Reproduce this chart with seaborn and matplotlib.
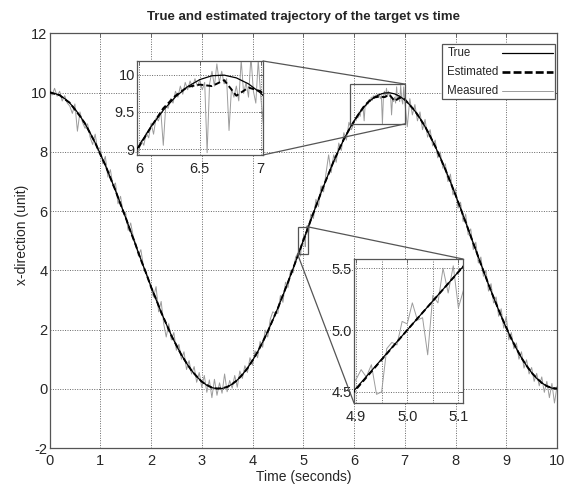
import numpy as np
import pandas as pd
import matplotlib
matplotlib.use("Agg")
import matplotlib.pyplot as plt
from matplotlib.lines import Line2D
from matplotlib.patches import Rectangle, ConnectionPatch
import seaborn as sns

# ---------------- data ----------------
# true trajectory, sampled every 0.1 s from 0 to 10 s
true_t = np.round(np.arange(0, 101) * 0.1, 2)
true_x = [10.000, 9.978, 9.911, 9.801, 9.649, 9.455, 9.222, 8.951, 8.645, 8.307,
          7.939, 7.545, 7.129, 6.694, 6.243, 5.782, 5.314, 4.843, 4.373, 3.909,
          3.455, 3.014, 2.591, 2.190, 1.813, 1.464, 1.147, 0.865, 0.618, 0.411,
          0.245, 0.120, 0.039, 0.002, 0.010, 0.062, 0.157, 0.296, 0.476, 0.696,
          0.955, 1.249, 1.577, 1.935, 2.321, 2.730, 3.159, 3.605, 4.063, 4.529,
          5.000, 5.471, 5.937, 6.395, 6.841, 7.270, 7.679, 8.065, 8.423, 8.751,
          9.045, 9.304, 9.524, 9.704, 9.843, 9.938, 9.990, 9.998, 9.961, 9.880,
          9.755, 9.589, 9.382, 9.135, 8.853, 8.536, 8.187, 7.810, 7.409, 6.986,
          6.545, 6.091, 5.627, 5.157, 4.686, 4.218, 3.757, 3.306, 2.871, 2.455,
          2.061, 1.693, 1.355, 1.049, 0.778, 0.545, 0.351, 0.199, 0.089, 0.022,
          0.000]

# estimated trajectory, same sampling
est_x = [10.02, 9.96, 9.92, 9.78, 9.66, 9.43, 9.21, 8.96, 8.63, 8.31,
         7.92, 7.56, 7.12, 6.70, 6.23, 5.79, 5.30, 4.85, 4.36, 3.92,
         3.44, 3.03, 2.58, 2.20, 1.80, 1.47, 1.14, 0.87, 0.61, 0.42,
         0.24, 0.13, 0.04, 0.01, 0.02, 0.06, 0.16, 0.29, 0.48, 0.69,
         0.96, 1.24, 1.58, 1.93, 2.33, 2.72, 3.17, 3.60, 4.07, 4.52,
         5.00, 5.47, 5.94, 6.39, 6.85, 7.26, 7.69, 8.06, 8.43, 8.74,
         9.03, 9.30, 9.55, 9.72, 9.84, 9.87, 9.85, 9.93, 9.72, 9.83,
         9.78, 9.58, 9.39, 9.13, 8.86, 8.53, 8.19, 7.80, 7.41, 6.98,
         6.55, 6.09, 5.63, 5.15, 4.69, 4.21, 3.76, 3.30, 2.88, 2.45,
         2.07, 1.69, 1.36, 1.04, 0.78, 0.54, 0.36, 0.20, 0.09, 0.03,
         0.01]

# measured (noisy) trajectory, in segments with their sampling
meas_a_t = np.round(np.arange(0, 98) * 0.05, 2)            # 0.00 .. 4.85
meas_a = [10.12, 9.92, 10.15, 9.88, 10.05, 9.72, 9.90, 9.65, 9.55, 9.30,
          9.62, 8.70, 9.35, 9.00, 8.80, 8.95, 8.50, 8.25, 8.60, 8.05,
          8.15, 7.60, 7.85, 7.15, 7.40, 6.85, 6.95, 6.25, 6.50, 5.95,
          5.95, 5.35, 5.60, 5.15, 4.90, 4.50, 4.70, 4.15, 3.95, 3.75,
          3.40, 3.10, 3.45, 2.60, 2.95, 2.20, 1.75, 2.20, 1.65, 1.90,
          1.30, 1.50, 1.00, 1.25, 0.65, 0.95, 0.50, 0.75, 0.22, 0.55,
          0.05, 0.45, -0.12, 0.30, -0.30, 0.32, -0.22, 0.20, -0.15, 0.50,
          -0.10, 0.28, 0.02, 0.45, 0.05, 0.60, 0.35, 0.78, 0.55, 1.05,
          0.80, 1.28, 1.05, 1.60, 1.40, 1.98, 1.75, 2.35, 2.60, 2.55,
          2.55, 3.15, 2.92, 3.60, 3.42, 4.00, 3.92, 4.45]
meas_f2_t = np.round(4.90 + np.arange(0, 21) * 0.01, 2)     # 4.90 .. 5.10
meas_f2 = [4.60, 4.68, 4.62, 4.72, 4.48, 4.50, 4.85, 4.90, 4.88, 5.07,
           5.05, 5.22, 5.08, 5.10, 4.80, 5.28, 5.22, 5.50, 5.30, 5.52,
           5.18]
meas_b_t = np.round(5.15 + np.arange(0, 17) * 0.05, 2)      # 5.15 .. 5.95
meas_b = [5.90, 5.75, 6.40, 6.15, 6.85, 6.65, 7.30, 7.90, 7.30, 7.90,
          7.65, 8.30, 8.05, 8.65, 8.40, 9.00, 8.75]
meas_f1_t = np.round(6.00 + np.arange(0, 51) * 0.02, 2)     # 6.00 .. 7.00
meas_f1 = [8.98, 9.12, 9.05, 9.22, 9.15, 9.35, 9.20, 9.42, 9.38, 9.50,
           9.05, 9.58, 9.55, 9.68, 9.62, 9.78, 9.70, 9.85, 9.74, 9.90,
           9.80, 9.92, 9.83, 9.95, 9.85, 9.93, 9.80, 9.90, 8.95, 9.88,
           10.05, 9.85, 10.15, 9.90, 10.05, 9.88, 9.95, 9.25, 9.82, 9.70,
           9.85, 9.65, 10.20, 9.75, 9.90, 9.70, 10.25, 9.78, 9.62, 10.20,
           9.72]
meas_c_t = np.round(7.05 + np.arange(0, 60) * 0.05, 2)      # 7.05 .. 10.00
meas_c = [8.85, 9.80, 9.25, 9.60, 9.05, 9.35, 8.75, 9.10, 8.50, 8.75,
          8.20, 8.40, 7.80, 8.00, 7.45, 7.60, 7.00, 7.25, 6.55, 6.75,
          6.10, 6.30, 5.65, 5.90, 5.20, 5.40, 4.70, 4.95, 4.25, 4.45,
          3.80, 4.00, 3.30, 3.55, 2.90, 3.10, 2.45, 2.70, 2.05, 2.45,
          1.65, 1.90, 1.35, 1.55, 1.00, 1.25, 0.70, 0.98, 0.50, 0.72,
          0.25, 0.52, 0.10, 0.40, -0.12, 0.25, -0.30, 0.18, -0.48, 0.08]

legend_labels = ["True", "Estimated", "Measured"]
title_text = "True and estimated trajectory of the target vs time"
xlabel_text = "Time (seconds)"
ylabel_text = "x-direction (unit)"
main_xticks = list(range(0, 11))
main_yticks = list(range(-2, 13, 2))

# ---------------- frames ----------------
df_true = pd.DataFrame({"t": true_t, "x": true_x})
df_est = pd.DataFrame({"t": true_t, "x": est_x})
df_meas = pd.DataFrame({
    "t": np.concatenate([meas_a_t, meas_f2_t, meas_b_t, meas_f1_t, meas_c_t]),
    "x": np.concatenate([meas_a, meas_f2, meas_b, meas_f1, meas_c]),
})

# ---------------- style ----------------
sns.set_style("white")
plt.rcParams["font.family"] = ["Liberation Sans", "DejaVu Sans"]
plt.rcParams["font.size"] = 10
plt.rcParams["axes.unicode_minus"] = False

FRAME = "#555555"
GRID = "#666666"
MEAS_C = "#9c9c9c"
EST_LS = (0, (3, 1.6))

fig = plt.figure(figsize=(5.69, 4.87), dpi=100)
fig.patch.set_facecolor("white")
W, H = 569.0, 487.0
AX_L, AX_T, AX_R, AX_B = 49.5, 33.5, 557.0, 448.0


def px_axes(l, t, r, b):
    return [l / W, (H - b) / H, (r - l) / W, (b - t) / H]


def ax_fx(px):
    return (px - AX_L) / (AX_R - AX_L)


def ax_fy(py):
    return (AX_B - py) / (AX_B - AX_T)


def draw_series(a):
    sns.lineplot(data=df_meas, x="t", y="x", ax=a, color=MEAS_C, linewidth=0.7,
                 estimator=None, sort=False, legend=False, zorder=2)
    sns.lineplot(data=df_true, x="t", y="x", ax=a, color="black", linewidth=0.9,
                 estimator=None, sort=False, legend=False, zorder=3)
    sns.lineplot(data=df_est, x="t", y="x", ax=a, color="black", linewidth=1.4,
                 linestyle=EST_LS, estimator=None, sort=False,
                 legend=False, zorder=4)


def style_axes(a, size=10.5):
    for s in a.spines.values():
        s.set_color(FRAME)
        s.set_linewidth(0.9)
    a.grid(True, color=GRID, linestyle=(0, (1, 1.5)), linewidth=0.7)
    a.set_axisbelow(True)
    a.tick_params(direction="in", length=3, width=0.6, color=FRAME,
                  labelsize=size, pad=2, top=True, right=True)
    a.set_xlabel("")
    a.set_ylabel("")


# main axes
ax = fig.add_axes(px_axes(AX_L, AX_T, AX_R, AX_B))
draw_series(ax)
style_axes(ax)
ax.set_xlim(0, 10)
ax.set_ylim(-2, 12)
ax.set_xticks(main_xticks)
ax.set_yticks(main_yticks)
ax.tick_params(axis="x", pad=4)
ax.tick_params(axis="y", pad=1.5)
ax.set_title(title_text, fontweight="bold", fontsize=9.5, pad=10)
ax.set_xlabel(xlabel_text, fontsize=10)
ax.set_ylabel(ylabel_text, fontsize=10)
ax.xaxis.set_label_coords(0.5, -0.053)
ax.yaxis.set_label_coords(-0.040, 0.514)

# legend box (text left, line sample right)
ax.add_patch(Rectangle((ax_fx(442), ax_fy(99)), ax_fx(555) - ax_fx(442),
                       ax_fy(44) - ax_fy(99), transform=ax.transAxes,
                       facecolor="white", edgecolor=FRAME, linewidth=0.9,
                       zorder=10))
leg_styles = [dict(color="black", lw=0.9, ls="-"),
              dict(color="black", lw=1.9, ls=(0, (3, 1.2))),
              dict(color=MEAS_C, lw=0.7, ls="-")]
for row_y, lab, st in zip([53, 72, 91], legend_labels, leg_styles):
    ax.text(ax_fx(447.5), ax_fy(row_y), lab, transform=ax.transAxes,
            ha="left", va="center", fontsize=8.3, zorder=11)
    ax.add_line(Line2D([ax_fx(502), ax_fx(553)], [ax_fy(row_y), ax_fy(row_y)],
                       transform=ax.transAxes, color=st["color"],
                       linewidth=st["lw"], linestyle=st["ls"], zorder=11))

# zoom rectangles on main axes
rect1 = (5.93, 8.95, 7.01, 10.29)
rect2 = (4.89, 4.54, 5.09, 5.47)
for (x0, y0, x1, y1) in (rect1, rect2):
    ax.add_patch(Rectangle((x0, y0), x1 - x0, y1 - y0, fill=False,
                           edgecolor=FRAME, linewidth=0.9, zorder=6))

# inset 1
ax1 = fig.add_axes(px_axes(137, 61, 263, 155))
draw_series(ax1)
style_axes(ax1, size=10.5)
ax1.set_facecolor("white")
ax1.set_xlim(5.984, 7.019)
ax1.set_ylim(8.919, 10.189)
ax1.set_xticks([6, 6.5, 7])
ax1.set_xticklabels(["6", "6.5", "7"])
ax1.set_yticks([9, 9.5, 10])
ax1.set_yticklabels(["9", "9.5", "10"])
ax1.tick_params(axis="x", pad=5)
ax1.tick_params(axis="y", pad=1.5)

# inset 2
ax2 = fig.add_axes(px_axes(354, 259, 463, 403))
draw_series(ax2)
style_axes(ax2, size=10.5)
ax2.set_facecolor("white")
ax2.set_xlim(4.896, 5.109)
ax2.set_ylim(4.41, 5.575)
ax2.set_xticks([4.9, 5.0, 5.1])
ax2.set_xticklabels(["4.9", "5.0", "5.1"])
ax2.set_xticks([4.95, 5.05], minor=True)
ax2.grid(True, which="minor", axis="x", color=GRID,
         linestyle=(0, (1, 1.5)), linewidth=0.7)
ax2.tick_params(axis="x", which="minor", length=0)
ax2.set_yticks([4.5, 5.0, 5.5])
ax2.set_yticklabels(["4.5", "5.0", "5.5"])
ax2.tick_params(axis="x", pad=5)
ax2.tick_params(axis="y", pad=1.5)

# connector lines
conns = [
    (ax1, (1, 1), (rect1[2], rect1[3])),
    (ax1, (1, 0), (rect1[2], rect1[1])),
    (ax2, (1, 1), (rect2[2], rect2[3])),
    (ax2, (0, 0), (rect2[0], rect2[1])),
]
for a_in, cA, cB in conns:
    cp = ConnectionPatch(xyA=cA, coordsA=a_in.transAxes, xyB=cB,
                         coordsB=ax.transData, color=FRAME, linewidth=0.9)
    cp.set_zorder(7)
    fig.add_artist(cp)

fig.savefig("out.png", dpi=100, facecolor="white")
